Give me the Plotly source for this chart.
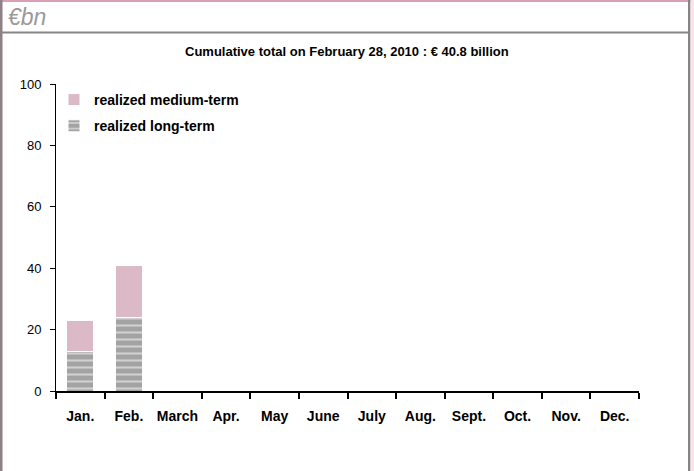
import plotly.graph_objects as go

months = ["Jan.", "Feb.", "March", "Apr.", "May", "June", "July", "Aug.", "Sept.", "Oct.", "Nov.", "Dec."]
long_term = [12.8, 23.8, None, None, None, None, None, None, None, None, None, None]
medium_term = [10.2, 17.0, None, None, None, None, None, None, None, None, None, None]
y_ticks = [0, 20, 40, 60, 80, 100]

W, H = 694, 471
L, R, T, B = 56, 55, 84, 80
PW, PH = W - L - R, H - T - B

def px(x):
    return (x - L) / PW

def py(y):
    return (H - B - y) / PH

FONT = "Liberation Sans, Arial, sans-serif"

fig = go.Figure()
fig.add_trace(go.Bar(
    x=months, y=long_term, name="realized long-term", legendgroup="lt", legendrank=2,
    marker=dict(color="#a3a3a3", line=dict(color="white", width=1),
                pattern=dict(shape="-", fgcolor="white", bgcolor="#a3a3a3", size=7, solidity=0.3)),
))
fig.add_trace(go.Bar(
    x=months, y=medium_term, name="realized medium-term", legendgroup="mt", legendrank=1,
    marker=dict(color="#dcb9c6", line=dict(color="white", width=1)),
))

shapes = [
    dict(type="rect", x0=px(0), x1=px(W), y0=py(0), y1=py(2), fillcolor="#d9a0b3", line_width=0),
    dict(type="rect", x0=px(0), x1=px(2.5), y0=py(0), y1=py(H), fillcolor="#8f7f86", line_width=0),
    dict(type="rect", x0=px(688), x1=px(690.5), y0=py(0), y1=py(H), fillcolor="#858585", line_width=0),
    dict(type="rect", x0=px(690.5), x1=px(W), y0=py(0), y1=py(H), fillcolor="#fbe3eb", line_width=0),
    dict(type="rect", x0=px(0), x1=px(690), y0=py(31.5), y1=py(33.5), fillcolor="#858585", line_width=0),
]
for s in shapes:
    s.update(xref="paper", yref="paper", layer="above")

fig.update_layout(
    width=W, height=H,
    margin=dict(l=L, r=R, t=T, b=B, autoexpand=False),
    paper_bgcolor="white", plot_bgcolor="white",
    barmode="stack", bargap=0.44,
    font=dict(family=FONT, color="black", size=13),
    showlegend=True,
    legend=dict(x=px(54), y=py(84), xanchor="left", yanchor="top",
                traceorder="grouped", font=dict(size=14, family=FONT, weight="bold"),
                bgcolor="rgba(0,0,0,0)", itemwidth=30, tracegroupgap=5),
    xaxis=dict(categoryorder="array", categoryarray=months, range=[-0.5, 11.5],
               showline=True, linecolor="black", linewidth=1.5, automargin=False,
               ticks="outside", ticklen=6, tickcolor="black", tickwidth=1.5,
               tickson="boundaries", ticklabelstandoff=11, tickangle=0,
               tickfont=dict(size=14, family=FONT, weight="bold"), showgrid=False),
    yaxis=dict(range=[0, 100], tickvals=y_ticks, showline=True, linecolor="black", linewidth=1,
               ticks="outside", ticklen=5, tickcolor="black", tickwidth=1, automargin=False,
               showgrid=False, zeroline=False, ticklabelstandoff=6,
               tickfont=dict(size=13, family=FONT)),
    shapes=shapes,
    annotations=[
        dict(text="€bn", x=px(6), y=py(17), xref="paper", yref="paper", xanchor="left", yanchor="middle",
             showarrow=False, font=dict(size=23, family=FONT, color="#9a9a9a", style="italic")),
        dict(text="<b>Cumulative total on February 28, 2010 : € 40.8 billion</b>", x=px(347), y=py(52),
             xref="paper", yref="paper", xanchor="center", yanchor="middle",
             showarrow=False, font=dict(size=13, family=FONT, color="black")),
    ],
)

fig.write_html("out.html", config={"displayModeBar": False},
               post_script="document.body.style.margin='0';document.body.style.padding='0';")
